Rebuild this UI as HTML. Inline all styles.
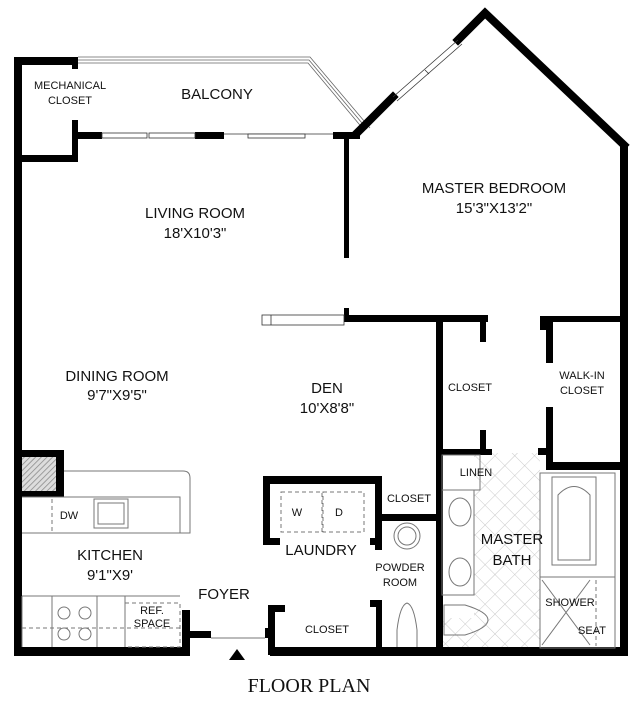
<!DOCTYPE html>
<html><head><meta charset="utf-8"><style>
html,body{margin:0;padding:0;background:#fff;}
svg{display:block;}
text{font-family:"Liberation Sans",sans-serif;fill:#111;text-anchor:middle;}
</style></head><body>
<svg width="640" height="703" viewBox="0 0 640 703" xmlns="http://www.w3.org/2000/svg">
<defs>
<pattern id="tile" width="14" height="14" patternUnits="userSpaceOnUse" patternTransform="rotate(45)">
<rect width="14" height="14" fill="#fff"/><path d="M0 0H14M0 0V14" stroke="#bbb" stroke-width="0.8"/></pattern>
<pattern id="hatch" width="4" height="4" patternUnits="userSpaceOnUse" patternTransform="rotate(45)">
<rect width="4" height="4" fill="#ddd"/><path d="M0 0V4" stroke="#888" stroke-width="1.5"/></pattern>
</defs>
<rect x="474" y="453" width="66" height="195" fill="url(#tile)"/>
<rect x="442" y="618" width="40" height="30" fill="url(#tile)"/>
<g fill="none" stroke="#666" stroke-width="0.8">
<path d="M78 57 H310 L370 128"/><path d="M78 60 H309 L367 129"/><path d="M78 63 H308 L364 130"/>
</g>
<g fill="#000">
<rect x="14" y="57" width="8" height="599"/>
<rect x="14" y="57" width="64" height="8"/>
<rect x="72" y="57" width="6" height="12"/>
<rect x="72" y="120" width="6" height="42"/>
<rect x="14" y="155" width="64" height="7"/>
<rect x="78" y="132" width="24" height="7"/>
<rect x="195" y="132" width="29" height="7"/>
<rect x="333" y="132" width="27" height="7"/>
<rect x="14" y="647" width="176" height="9"/>
<rect x="182" y="610" width="8" height="45"/>
<rect x="190" y="631" width="21" height="7"/>
<rect x="270" y="647" width="358" height="9"/>
<rect x="620" y="145" width="8" height="511"/>
<rect x="344" y="135" width="5" height="123"/>
<rect x="344" y="308" width="5" height="14"/>
<rect x="344" y="315" width="144" height="7"/>
<rect x="480" y="315" width="6" height="27"/>
<rect x="436" y="315" width="7" height="340"/>
<rect x="480" y="430" width="6" height="25"/>
<rect x="436" y="449" width="56" height="6"/>
<rect x="546" y="316" width="7" height="47"/>
<rect x="546" y="407" width="7" height="63"/>
<rect x="553" y="316" width="70" height="6"/>
<rect x="546" y="462" width="77" height="8"/>
<rect x="538" y="448" width="10" height="7"/>
<rect x="540" y="316" width="8" height="14"/>
<rect x="14" y="450" width="50" height="47"/>
<rect x="263" y="476" width="119" height="8"/>
<rect x="263" y="476" width="7" height="69"/>
<rect x="263" y="538" width="17" height="7"/>
<rect x="370" y="538" width="12" height="7"/>
<rect x="375" y="476" width="7" height="74"/>
<rect x="382" y="514" width="56" height="7"/>
<rect x="376" y="600" width="6" height="55"/>
<rect x="370" y="600" width="8" height="7"/>
<rect x="268" y="605" width="7" height="50"/>
<rect x="268" y="605" width="17" height="7"/>
<rect x="265" y="628" width="5" height="10"/>
</g>
<rect x="22" y="457" width="34" height="34" fill="url(#hatch)"/>
<g fill="#fff" stroke="#333" stroke-width="0.8">
<rect x="102" y="133" width="45" height="5"/><rect x="149" y="133" width="46" height="5"/>
<line x1="224" y1="134" x2="333" y2="134"/>
<rect x="248" y="134" width="57" height="4"/>
<rect x="262" y="315" width="82" height="10"/><line x1="271" y1="315" x2="271" y2="325"/>
</g>
<g stroke="#000" stroke-width="8" fill="none" stroke-linecap="square">
<path d="M357 133 L393 97"/>
<path d="M458 40 L485 13 L624 145"/>
</g>
<g stroke="#333" stroke-width="0.8" fill="none">
<path d="M393 97 L458 40"/><path d="M397 101 L462 44"/><path d="M425 70 L429 74"/>
</g>
<g fill="none" stroke="#777" stroke-width="1">
<path d="M64 471 H183 Q190 471 190 478 V533 H180 V497 H22"/>
<path d="M22 533 H180"/>
<rect x="94" y="499" width="34" height="29"/><rect x="98" y="503" width="26" height="21"/>
<path d="M22 596 H180 M22 647 V596 M52 596 V647 M97 596 V647 M125 596 V647"/>
<circle cx="64" cy="613" r="6"/><circle cx="85" cy="613" r="6"/><circle cx="64" cy="634" r="6"/><circle cx="85" cy="634" r="6"/>
<path d="M211 638 H265"/>
</g>
<g fill="none" stroke="#777" stroke-width="1" stroke-dasharray="4 3">
<path d="M52 499 V531"/>
<rect x="125" y="603" width="55" height="44"/>
<path d="M22 628 H180"/>
<rect x="281" y="492" width="41" height="40"/><rect x="323" y="492" width="41" height="40"/>
</g>
<g fill="none" stroke="#777" stroke-width="1">
<circle cx="407" cy="536" r="13"/><circle cx="407" cy="536" r="9"/>
<path d="M397 647 V630 Q400 605 407 603 Q414 605 417 630 V647"/>
<rect x="442" y="455" width="38" height="35"/>
<rect x="442" y="490" width="32" height="105"/>
<ellipse cx="460" cy="512" rx="11" ry="14"/><ellipse cx="460" cy="572" rx="11" ry="14"/>
<path d="M444 605 H465 Q488 612 488 620 Q488 628 465 635 H444 Z"/>
<rect x="540" y="473" width="75" height="104"/>
<rect x="552" y="477" width="44" height="88"/>
<path d="M558 560 V495 Q574 478 590 495 V560 Z"/>
<rect x="540" y="577" width="75" height="71"/>
<path d="M542 580 L590 645 M590 580 L542 645"/>
</g>
<path d="M596 580 V646" stroke="#777" stroke-dasharray="4 3" fill="none"/>
<path d="M229 660 L237 649 L245 660 Z" fill="#000"/>
<g font-size="11">
<text x="70" y="89">MECHANICAL</text><text x="70" y="104">CLOSET</text>
<text x="470" y="391">CLOSET</text>
<text x="582" y="379">WALK-IN</text><text x="582" y="394">CLOSET</text>
<text x="476" y="476">LINEN</text>
<text x="409" y="502">CLOSET</text>
<text x="297" y="516">W</text><text x="339" y="516">D</text>
<text x="69" y="519">DW</text>
<text x="400" y="571">POWDER</text><text x="400" y="586">ROOM</text>
<text x="152" y="614">REF.</text><text x="152" y="627">SPACE</text>
<text x="327" y="633">CLOSET</text>
<text x="570" y="606">SHOWER</text><text x="592" y="634">SEAT</text>
</g>
<g font-size="15">
<text x="217" y="99">BALCONY</text>
<text x="195" y="218">LIVING ROOM</text><text x="195" y="238">18'X10'3"</text>
<text x="494" y="193">MASTER BEDROOM</text><text x="494" y="213">15'3"X13'2"</text>
<text x="117" y="381">DINING ROOM</text><text x="117" y="400">9'7"X9'5"</text>
<text x="327" y="393">DEN</text><text x="327" y="413">10'X8'8"</text>
<text x="321" y="555">LAUNDRY</text>
<text x="110" y="560">KITCHEN</text><text x="110" y="580">9'1"X9'</text>
<text x="224" y="599">FOYER</text>
<text x="512" y="544">MASTER</text><text x="512" y="565">BATH</text>
</g>
<text x="309" y="692" font-size="20" style="font-family:'Liberation Serif',serif">FLOOR PLAN</text>
</svg>
</body></html>
